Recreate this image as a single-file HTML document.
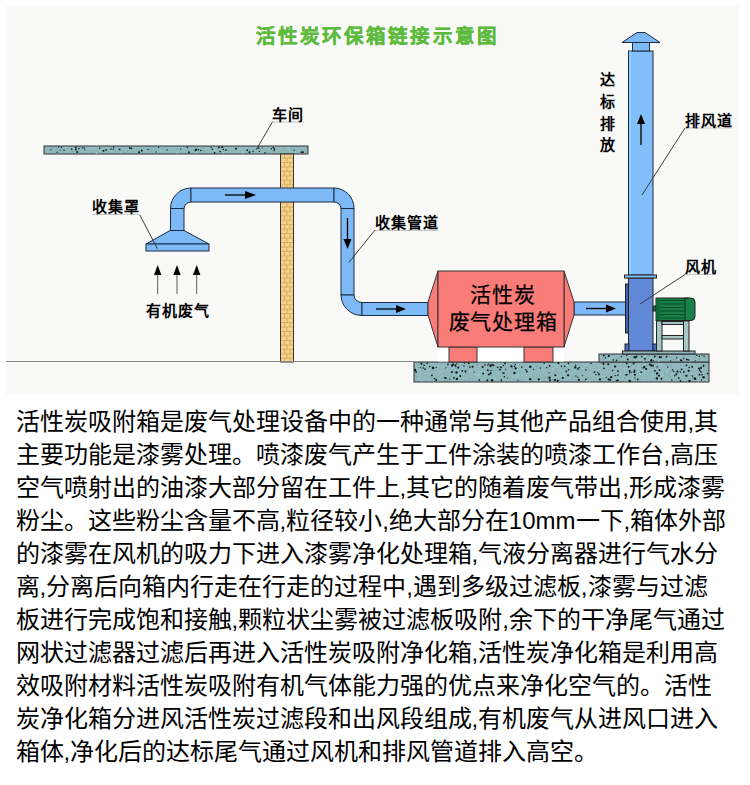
<!DOCTYPE html>
<html lang="zh-CN">
<head>
<meta charset="utf-8">
<style>
html,body{margin:0;padding:0;background:#fff;}
body{width:750px;height:785px;overflow:hidden;position:relative;font-family:"Liberation Sans",sans-serif;}
#dia{position:absolute;left:0;top:0;}
.lbl{font-family:"Liberation Sans",sans-serif;font-weight:bold;font-size:15px;letter-spacing:1px;fill:#000;}
.ttl{font-family:"Liberation Sans",sans-serif;font-weight:bold;font-size:19.5px;fill:#5cba3c;stroke:#5cba3c;stroke-width:0.3px;letter-spacing:2.13px;}
.boxt{font-family:"Liberation Serif",serif;font-size:21px;letter-spacing:0.9px;fill:#000;stroke:#000;stroke-width:0.25px;}
#txt{position:absolute;left:15.5px;top:405.4px;width:730px;font-size:24px;line-height:33px;color:#000;white-space:nowrap;}
#txt div{height:33px;}
</style>
</head>
<body>
<svg id="dia" width="750" height="400" viewBox="0 0 750 400">
<defs>

<pattern id="brick" width="14" height="8.9" patternUnits="userSpaceOnUse" x="280" y="154">
<rect width="14" height="8.9" fill="#f6d48a"/>
<path d="M0 4H14M0 8.45H14M4.5 0V4M10 0V4M7 4V8.45" stroke="#d4a460" stroke-width="0.9"/>
</pattern>
</defs>
<rect x="6" y="6" width="733" height="388.5" fill="#f9f9f7"/>
<text class="ttl" x="255.5" y="42.6">活性炭环保箱链接示意图</text>

<!-- ceiling -->
<rect x="44" y="146" width="264" height="8" fill="#8fb8bd" stroke="#333" stroke-width="1"/>
<!-- brick column -->
<rect x="280.5" y="154" width="13" height="208" fill="url(#brick)" stroke="#333" stroke-width="1"/>
<!-- floor line -->
<line x1="6" y1="361.5" x2="414" y2="361.5" stroke="#888" stroke-width="1"/>
<!-- floor slab -->
<rect x="414" y="362" width="295" height="20" fill="#8fb8bd" stroke="#333" stroke-width="1"/>
<rect x="599" y="354" width="110" height="8" fill="#8fb8bd" stroke="#333" stroke-width="1"/>
<g><rect x="284.6" y="147.2" width="1" height="1" fill="#6f969c"/><rect x="106.0" y="147.3" width="1" height="1" fill="#a8cccf"/><rect x="288.7" y="149.2" width="1" height="1" fill="#a8cccf"/><rect x="162.7" y="148.6" width="1" height="1" fill="#7aa2a8"/><rect x="72.7" y="150.6" width="1" height="1" fill="#6f969c"/><rect x="102.0" y="149.2" width="1" height="1" fill="#a8cccf"/><rect x="56.6" y="153.0" width="1" height="1" fill="#7aa2a8"/><rect x="202.0" y="150.9" width="1" height="1" fill="#a8cccf"/><rect x="258.5" y="151.9" width="1" height="1" fill="#b4d4d6"/><rect x="222.7" y="148.1" width="1" height="1" fill="#6f969c"/><rect x="65.4" y="147.2" width="1" height="1" fill="#b4d4d6"/><rect x="188.6" y="147.4" width="1" height="1" fill="#7aa2a8"/><rect x="253.5" y="151.0" width="1" height="1" fill="#a8cccf"/><rect x="212.5" y="147.5" width="1" height="1" fill="#a8cccf"/><rect x="149.2" y="148.6" width="1" height="1" fill="#6f969c"/><rect x="220.0" y="149.5" width="1" height="1" fill="#7aa2a8"/><rect x="126.8" y="150.4" width="1" height="1" fill="#6f969c"/><rect x="153.5" y="147.1" width="1" height="1" fill="#6f969c"/><rect x="213.9" y="149.3" width="1" height="1" fill="#b4d4d6"/><rect x="98.4" y="147.0" width="1" height="1" fill="#a8cccf"/><rect x="156.0" y="151.9" width="1" height="1" fill="#b4d4d6"/><rect x="196.4" y="149.2" width="1" height="1" fill="#a8cccf"/><rect x="79.1" y="147.3" width="1" height="1" fill="#a8cccf"/><rect x="212.9" y="152.5" width="1" height="1" fill="#7aa2a8"/><rect x="195.1" y="152.6" width="1" height="1" fill="#a8cccf"/><rect x="83.2" y="148.7" width="1" height="1" fill="#a8cccf"/><rect x="287.5" y="147.7" width="1" height="1" fill="#b4d4d6"/><rect x="242.4" y="151.8" width="1" height="1" fill="#a8cccf"/><rect x="124.0" y="152.0" width="1" height="1" fill="#7aa2a8"/><rect x="300.6" y="149.9" width="1" height="1" fill="#7aa2a8"/><rect x="204.2" y="150.8" width="1" height="1" fill="#7aa2a8"/><rect x="281.9" y="150.7" width="1" height="1" fill="#a8cccf"/><rect x="212.8" y="152.1" width="1" height="1" fill="#b4d4d6"/><rect x="206.1" y="148.2" width="1" height="1" fill="#b4d4d6"/><rect x="92.9" y="148.3" width="1" height="1" fill="#b4d4d6"/><rect x="290.9" y="147.9" width="1" height="1" fill="#6f969c"/><rect x="77.2" y="148.5" width="1" height="1" fill="#a8cccf"/><rect x="55.8" y="150.4" width="1" height="1" fill="#7aa2a8"/><rect x="220.0" y="148.9" width="1" height="1" fill="#b4d4d6"/><rect x="202.1" y="150.3" width="1" height="1" fill="#6f969c"/><rect x="215.0" y="148.8" width="1" height="1" fill="#a8cccf"/><rect x="156.5" y="151.0" width="1" height="1" fill="#b4d4d6"/><rect x="176.9" y="148.1" width="1" height="1" fill="#7aa2a8"/><rect x="207.1" y="149.9" width="1" height="1" fill="#a8cccf"/><rect x="162.1" y="150.7" width="1" height="1" fill="#b4d4d6"/><rect x="264.2" y="151.9" width="1" height="1" fill="#b4d4d6"/><rect x="73.1" y="147.8" width="1" height="1" fill="#b4d4d6"/><rect x="140.7" y="151.8" width="1" height="1" fill="#7aa2a8"/><rect x="55.7" y="147.8" width="1" height="1" fill="#6f969c"/><rect x="248.7" y="150.1" width="1" height="1" fill="#7aa2a8"/><rect x="242.0" y="152.4" width="1" height="1" fill="#a8cccf"/><rect x="51.8" y="147.4" width="1" height="1" fill="#7aa2a8"/><rect x="95.8" y="152.9" width="1" height="1" fill="#b4d4d6"/><rect x="120.4" y="151.9" width="1" height="1" fill="#a8cccf"/><rect x="224.8" y="151.3" width="1" height="1" fill="#a8cccf"/><rect x="62.2" y="149.1" width="1" height="1" fill="#6f969c"/><rect x="86.6" y="152.4" width="1" height="1" fill="#6f969c"/><rect x="282.1" y="149.7" width="1" height="1" fill="#6f969c"/><rect x="176.6" y="152.5" width="1" height="1" fill="#a8cccf"/><rect x="200.1" y="150.7" width="1" height="1" fill="#a8cccf"/><rect x="128.6" y="147.2" width="1" height="1" fill="#a8cccf"/><rect x="150.7" y="150.8" width="1" height="1" fill="#6f969c"/><rect x="223.1" y="152.4" width="1" height="1" fill="#a8cccf"/><rect x="252.5" y="148.6" width="1" height="1" fill="#7aa2a8"/><rect x="211.7" y="149.2" width="1" height="1" fill="#b4d4d6"/><rect x="190.5" y="150.5" width="1" height="1" fill="#7aa2a8"/><rect x="111.0" y="150.2" width="1" height="1" fill="#b4d4d6"/><rect x="238.3" y="149.2" width="1" height="1" fill="#b4d4d6"/><rect x="304.5" y="150.5" width="1" height="1" fill="#6f969c"/><rect x="131.7" y="147.5" width="1" height="1" fill="#a8cccf"/><rect x="91.3" y="151.5" width="1" height="1" fill="#7aa2a8"/><rect x="122.7" y="150.1" width="1" height="1" fill="#6f969c"/><rect x="212.5" y="152.9" width="1" height="1" fill="#6f969c"/><rect x="237.1" y="151.5" width="1" height="1" fill="#a8cccf"/><rect x="84.1" y="150.7" width="1" height="1" fill="#b4d4d6"/><rect x="154.4" y="149.2" width="1" height="1" fill="#7aa2a8"/><rect x="79.6" y="148.4" width="1" height="1" fill="#7aa2a8"/><rect x="50.8" y="147.0" width="1" height="1" fill="#6f969c"/><rect x="124.6" y="150.1" width="1" height="1" fill="#a8cccf"/><rect x="153.3" y="148.8" width="1" height="1" fill="#a8cccf"/><rect x="474.8" y="374.2" width="1" height="1" fill="#b4d4d6"/><rect x="461.5" y="363.3" width="1" height="1" fill="#a8cccf"/><rect x="622.3" y="371.1" width="1" height="1" fill="#7aa2a8"/><rect x="602.0" y="378.7" width="1" height="1" fill="#6f969c"/><rect x="532.8" y="367.8" width="1" height="1" fill="#7aa2a8"/><rect x="431.4" y="377.8" width="1" height="1" fill="#6f969c"/><rect x="589.3" y="373.4" width="1" height="1" fill="#b4d4d6"/><rect x="487.8" y="379.3" width="1" height="1" fill="#7aa2a8"/><rect x="433.0" y="363.5" width="1" height="1" fill="#a8cccf"/><rect x="484.6" y="364.1" width="1" height="1" fill="#7aa2a8"/><rect x="418.6" y="372.9" width="1" height="1" fill="#a8cccf"/><rect x="456.7" y="366.6" width="1" height="1" fill="#b4d4d6"/><rect x="653.3" y="366.1" width="1" height="1" fill="#6f969c"/><rect x="433.7" y="374.3" width="1" height="1" fill="#b4d4d6"/><rect x="624.6" y="363.1" width="1" height="1" fill="#b4d4d6"/><rect x="633.3" y="371.4" width="1" height="1" fill="#b4d4d6"/><rect x="466.4" y="380.9" width="1" height="1" fill="#6f969c"/><rect x="483.1" y="363.7" width="1" height="1" fill="#6f969c"/><rect x="676.1" y="379.7" width="1" height="1" fill="#6f969c"/><rect x="623.5" y="367.8" width="1" height="1" fill="#b4d4d6"/><rect x="615.9" y="379.5" width="1" height="1" fill="#6f969c"/><rect x="501.6" y="379.7" width="1" height="1" fill="#a8cccf"/><rect x="440.0" y="372.1" width="1" height="1" fill="#a8cccf"/><rect x="491.3" y="367.2" width="1" height="1" fill="#a8cccf"/><rect x="691.8" y="376.4" width="1" height="1" fill="#6f969c"/><rect x="471.2" y="370.0" width="1" height="1" fill="#a8cccf"/><rect x="526.2" y="378.3" width="1" height="1" fill="#b4d4d6"/><rect x="553.3" y="372.6" width="1" height="1" fill="#7aa2a8"/><rect x="666.3" y="370.9" width="1" height="1" fill="#a8cccf"/><rect x="582.1" y="368.5" width="1" height="1" fill="#a8cccf"/><rect x="529.7" y="373.5" width="1" height="1" fill="#a8cccf"/><rect x="457.4" y="363.5" width="1" height="1" fill="#7aa2a8"/><rect x="597.2" y="365.9" width="1" height="1" fill="#a8cccf"/><rect x="620.3" y="363.6" width="1" height="1" fill="#a8cccf"/><rect x="617.9" y="374.4" width="1" height="1" fill="#7aa2a8"/><rect x="630.9" y="364.2" width="1" height="1" fill="#6f969c"/><rect x="473.4" y="380.2" width="1" height="1" fill="#7aa2a8"/><rect x="672.8" y="376.6" width="1" height="1" fill="#b4d4d6"/><rect x="446.4" y="366.7" width="1" height="1" fill="#7aa2a8"/><rect x="424.9" y="380.1" width="1" height="1" fill="#7aa2a8"/><rect x="656.7" y="374.4" width="1" height="1" fill="#6f969c"/><rect x="554.8" y="365.4" width="1" height="1" fill="#a8cccf"/><rect x="501.3" y="369.1" width="1" height="1" fill="#6f969c"/><rect x="421.1" y="367.6" width="1" height="1" fill="#6f969c"/><rect x="429.2" y="376.7" width="1" height="1" fill="#6f969c"/><rect x="640.4" y="373.8" width="1" height="1" fill="#b4d4d6"/><rect x="664.5" y="374.1" width="1" height="1" fill="#7aa2a8"/><rect x="646.2" y="363.6" width="1" height="1" fill="#7aa2a8"/><rect x="516.6" y="375.7" width="1" height="1" fill="#a8cccf"/><rect x="624.3" y="377.9" width="1" height="1" fill="#6f969c"/><rect x="464.9" y="363.0" width="1" height="1" fill="#a8cccf"/><rect x="499.5" y="376.5" width="1" height="1" fill="#7aa2a8"/><rect x="416.3" y="371.8" width="1" height="1" fill="#b4d4d6"/><rect x="618.7" y="377.9" width="1" height="1" fill="#b4d4d6"/><rect x="588.6" y="380.2" width="1" height="1" fill="#6f969c"/><rect x="584.4" y="365.9" width="1" height="1" fill="#a8cccf"/><rect x="689.9" y="367.2" width="1" height="1" fill="#a8cccf"/><rect x="447.2" y="374.5" width="1" height="1" fill="#7aa2a8"/><rect x="558.7" y="380.8" width="1" height="1" fill="#7aa2a8"/><rect x="599.0" y="369.4" width="1" height="1" fill="#b4d4d6"/><rect x="687.1" y="379.1" width="1" height="1" fill="#7aa2a8"/><rect x="538.7" y="374.6" width="1" height="1" fill="#6f969c"/><rect x="475.4" y="367.7" width="1" height="1" fill="#a8cccf"/><rect x="526.1" y="378.9" width="1" height="1" fill="#a8cccf"/><rect x="691.6" y="365.3" width="1" height="1" fill="#7aa2a8"/><rect x="517.1" y="368.9" width="1" height="1" fill="#a8cccf"/><rect x="669.3" y="371.1" width="1" height="1" fill="#6f969c"/><rect x="464.7" y="370.9" width="1" height="1" fill="#6f969c"/><rect x="584.7" y="365.3" width="1" height="1" fill="#b4d4d6"/><rect x="603.3" y="375.5" width="1" height="1" fill="#a8cccf"/><rect x="493.4" y="376.6" width="1" height="1" fill="#a8cccf"/><rect x="626.9" y="380.5" width="1" height="1" fill="#6f969c"/><rect x="591.6" y="369.3" width="1" height="1" fill="#a8cccf"/><rect x="511.1" y="366.4" width="1" height="1" fill="#7aa2a8"/><rect x="463.2" y="374.8" width="1" height="1" fill="#a8cccf"/><rect x="527.6" y="380.7" width="1" height="1" fill="#6f969c"/><rect x="629.9" y="370.8" width="1" height="1" fill="#a8cccf"/><rect x="447.0" y="379.4" width="1" height="1" fill="#6f969c"/><rect x="475.5" y="370.0" width="1" height="1" fill="#7aa2a8"/><rect x="418.7" y="378.4" width="1" height="1" fill="#b4d4d6"/><rect x="618.2" y="372.0" width="1" height="1" fill="#6f969c"/><rect x="550.7" y="365.6" width="1" height="1" fill="#b4d4d6"/><rect x="416.6" y="367.4" width="1" height="1" fill="#b4d4d6"/><rect x="620.4" y="373.6" width="1" height="1" fill="#b4d4d6"/><rect x="662.9" y="375.0" width="1" height="1" fill="#a8cccf"/><rect x="614.1" y="374.5" width="1" height="1" fill="#b4d4d6"/><rect x="541.7" y="367.7" width="1" height="1" fill="#7aa2a8"/><rect x="677.2" y="367.4" width="1" height="1" fill="#b4d4d6"/><rect x="624.0" y="374.3" width="1" height="1" fill="#6f969c"/><rect x="663.9" y="371.7" width="1" height="1" fill="#7aa2a8"/><rect x="597.1" y="370.4" width="1" height="1" fill="#a8cccf"/><rect x="677.1" y="368.9" width="1" height="1" fill="#7aa2a8"/><rect x="528.9" y="371.8" width="1" height="1" fill="#7aa2a8"/><rect x="426.2" y="372.8" width="1" height="1" fill="#a8cccf"/><rect x="624.9" y="380.1" width="1" height="1" fill="#a8cccf"/><rect x="567.1" y="364.8" width="1" height="1" fill="#b4d4d6"/><rect x="573.5" y="375.9" width="1" height="1" fill="#7aa2a8"/><rect x="602.3" y="377.9" width="1" height="1" fill="#6f969c"/><rect x="535.2" y="380.1" width="1" height="1" fill="#a8cccf"/><rect x="705.2" y="366.3" width="1" height="1" fill="#7aa2a8"/><rect x="628.6" y="374.1" width="1" height="1" fill="#7aa2a8"/><rect x="489.0" y="369.9" width="1" height="1" fill="#7aa2a8"/><rect x="418.9" y="370.5" width="1" height="1" fill="#b4d4d6"/><rect x="599.2" y="375.1" width="1" height="1" fill="#6f969c"/><rect x="447.0" y="368.5" width="1" height="1" fill="#b4d4d6"/><rect x="690.4" y="372.5" width="1" height="1" fill="#a8cccf"/><rect x="706.3" y="380.3" width="1" height="1" fill="#b4d4d6"/><rect x="477.1" y="365.3" width="1" height="1" fill="#7aa2a8"/><rect x="652.2" y="374.4" width="1" height="1" fill="#b4d4d6"/><rect x="603.2" y="376.0" width="1" height="1" fill="#a8cccf"/><rect x="518.5" y="374.5" width="1" height="1" fill="#b4d4d6"/><rect x="552.2" y="368.3" width="1" height="1" fill="#a8cccf"/><rect x="643.5" y="371.4" width="1" height="1" fill="#a8cccf"/><rect x="493.4" y="369.8" width="1" height="1" fill="#6f969c"/><rect x="703.0" y="375.2" width="1" height="1" fill="#b4d4d6"/><rect x="415.8" y="376.0" width="1" height="1" fill="#6f969c"/><rect x="519.9" y="374.8" width="1" height="1" fill="#6f969c"/><rect x="555.5" y="370.7" width="1" height="1" fill="#7aa2a8"/><rect x="608.2" y="369.5" width="1" height="1" fill="#6f969c"/><rect x="665.4" y="364.0" width="1" height="1" fill="#6f969c"/><rect x="644.7" y="365.5" width="1" height="1" fill="#6f969c"/><rect x="600.5" y="363.3" width="1" height="1" fill="#7aa2a8"/><rect x="476.5" y="364.3" width="1" height="1" fill="#6f969c"/><rect x="488.3" y="364.8" width="1" height="1" fill="#a8cccf"/><rect x="665.3" y="366.3" width="1" height="1" fill="#b4d4d6"/><rect x="516.5" y="365.7" width="1" height="1" fill="#b4d4d6"/><rect x="647.0" y="366.0" width="1" height="1" fill="#7aa2a8"/><rect x="610.9" y="379.1" width="1" height="1" fill="#6f969c"/><rect x="472.8" y="375.5" width="1" height="1" fill="#7aa2a8"/><rect x="632.4" y="370.9" width="1" height="1" fill="#7aa2a8"/><rect x="577.6" y="367.8" width="1" height="1" fill="#a8cccf"/><rect x="657.3" y="371.5" width="1" height="1" fill="#7aa2a8"/><rect x="556.9" y="379.3" width="1" height="1" fill="#b4d4d6"/><rect x="487.2" y="366.0" width="1" height="1" fill="#7aa2a8"/><rect x="462.0" y="368.8" width="1" height="1" fill="#b4d4d6"/><rect x="609.9" y="378.1" width="1" height="1" fill="#6f969c"/><rect x="539.8" y="381.0" width="1" height="1" fill="#7aa2a8"/><rect x="467.9" y="369.5" width="1" height="1" fill="#7aa2a8"/><rect x="421.0" y="363.8" width="1" height="1" fill="#6f969c"/><rect x="651.9" y="364.7" width="1" height="1" fill="#b4d4d6"/><rect x="557.0" y="379.2" width="1" height="1" fill="#7aa2a8"/><rect x="477.5" y="370.5" width="1" height="1" fill="#a8cccf"/><rect x="514.2" y="378.5" width="1" height="1" fill="#6f969c"/><rect x="515.0" y="377.0" width="1" height="1" fill="#a8cccf"/><rect x="498.3" y="369.2" width="1" height="1" fill="#6f969c"/><rect x="577.3" y="377.9" width="1" height="1" fill="#6f969c"/><rect x="519.1" y="371.9" width="1" height="1" fill="#6f969c"/><rect x="562.6" y="367.9" width="1" height="1" fill="#6f969c"/><rect x="700.7" y="374.8" width="1" height="1" fill="#7aa2a8"/><rect x="512.0" y="368.7" width="1" height="1" fill="#6f969c"/><rect x="452.4" y="380.5" width="1" height="1" fill="#7aa2a8"/><rect x="644.8" y="363.7" width="1" height="1" fill="#b4d4d6"/><rect x="574.8" y="363.9" width="1" height="1" fill="#6f969c"/><rect x="446.8" y="363.8" width="1" height="1" fill="#b4d4d6"/><rect x="593.3" y="374.8" width="1" height="1" fill="#b4d4d6"/><rect x="595.7" y="374.3" width="1" height="1" fill="#7aa2a8"/><rect x="477.3" y="375.0" width="1" height="1" fill="#b4d4d6"/><rect x="598.2" y="366.1" width="1" height="1" fill="#a8cccf"/><rect x="669.7" y="370.6" width="1" height="1" fill="#7aa2a8"/><rect x="682.8" y="374.8" width="1" height="1" fill="#6f969c"/><rect x="670.5" y="365.5" width="1" height="1" fill="#6f969c"/><rect x="579.7" y="367.6" width="1" height="1" fill="#6f969c"/><rect x="469.1" y="363.6" width="1" height="1" fill="#7aa2a8"/><rect x="541.2" y="374.6" width="1" height="1" fill="#7aa2a8"/><rect x="560.8" y="372.4" width="1" height="1" fill="#7aa2a8"/><rect x="641.7" y="370.6" width="1" height="1" fill="#b4d4d6"/><rect x="545.8" y="363.3" width="1" height="1" fill="#b4d4d6"/><rect x="589.0" y="380.9" width="1" height="1" fill="#a8cccf"/><rect x="554.3" y="370.4" width="1" height="1" fill="#7aa2a8"/><rect x="439.3" y="371.5" width="1" height="1" fill="#a8cccf"/><rect x="598.7" y="370.7" width="1" height="1" fill="#7aa2a8"/><rect x="615.3" y="365.2" width="1" height="1" fill="#7aa2a8"/><rect x="478.9" y="365.2" width="1" height="1" fill="#b4d4d6"/><rect x="420.2" y="375.9" width="1" height="1" fill="#a8cccf"/><rect x="547.1" y="376.4" width="1" height="1" fill="#7aa2a8"/><rect x="522.2" y="376.5" width="1" height="1" fill="#a8cccf"/><rect x="628.8" y="364.5" width="1" height="1" fill="#b4d4d6"/><rect x="549.9" y="379.8" width="1" height="1" fill="#6f969c"/><rect x="682.7" y="363.9" width="1" height="1" fill="#7aa2a8"/><rect x="418.3" y="363.3" width="1" height="1" fill="#7aa2a8"/><rect x="529.0" y="368.6" width="1" height="1" fill="#a8cccf"/><rect x="695.6" y="378.0" width="1" height="1" fill="#7aa2a8"/><rect x="507.7" y="380.1" width="1" height="1" fill="#b4d4d6"/><rect x="552.7" y="366.0" width="1" height="1" fill="#7aa2a8"/><rect x="521.4" y="374.6" width="1" height="1" fill="#b4d4d6"/><rect x="554.7" y="377.0" width="1" height="1" fill="#b4d4d6"/><rect x="691.9" y="377.1" width="1" height="1" fill="#6f969c"/><rect x="500.7" y="364.1" width="1" height="1" fill="#6f969c"/><rect x="669.8" y="376.1" width="1" height="1" fill="#7aa2a8"/><rect x="658.6" y="373.8" width="1" height="1" fill="#6f969c"/><rect x="586.3" y="380.6" width="1" height="1" fill="#a8cccf"/><rect x="525.4" y="375.3" width="1" height="1" fill="#a8cccf"/><rect x="651.6" y="368.1" width="1" height="1" fill="#7aa2a8"/><rect x="509.2" y="367.8" width="1" height="1" fill="#a8cccf"/><rect x="586.9" y="377.7" width="1" height="1" fill="#7aa2a8"/><rect x="499.5" y="365.5" width="1" height="1" fill="#a8cccf"/><rect x="495.2" y="378.3" width="1" height="1" fill="#b4d4d6"/><rect x="516.6" y="364.5" width="1" height="1" fill="#b4d4d6"/><rect x="648.6" y="366.6" width="1" height="1" fill="#a8cccf"/><rect x="505.7" y="364.0" width="1" height="1" fill="#b4d4d6"/><rect x="551.3" y="366.7" width="1" height="1" fill="#6f969c"/><rect x="586.8" y="363.2" width="1" height="1" fill="#b4d4d6"/><rect x="549.7" y="364.6" width="1" height="1" fill="#6f969c"/><rect x="641.2" y="367.2" width="1" height="1" fill="#6f969c"/><rect x="674.3" y="372.4" width="1" height="1" fill="#b4d4d6"/><rect x="563.3" y="366.6" width="1" height="1" fill="#a8cccf"/><rect x="471.3" y="366.3" width="1" height="1" fill="#6f969c"/><rect x="521.3" y="373.2" width="1" height="1" fill="#b4d4d6"/><rect x="643.4" y="378.4" width="1" height="1" fill="#a8cccf"/><rect x="428.1" y="380.9" width="1" height="1" fill="#6f969c"/><rect x="668.8" y="369.7" width="1" height="1" fill="#b4d4d6"/><rect x="645.7" y="365.8" width="1" height="1" fill="#7aa2a8"/><rect x="516.1" y="372.4" width="1" height="1" fill="#7aa2a8"/><rect x="442.6" y="366.7" width="1" height="1" fill="#b4d4d6"/><rect x="586.9" y="366.8" width="1" height="1" fill="#6f969c"/><rect x="539.8" y="380.0" width="1" height="1" fill="#a8cccf"/><rect x="489.4" y="363.7" width="1" height="1" fill="#a8cccf"/><rect x="706.4" y="369.8" width="1" height="1" fill="#7aa2a8"/><rect x="429.9" y="373.0" width="1" height="1" fill="#b4d4d6"/><rect x="557.6" y="378.2" width="1" height="1" fill="#7aa2a8"/><rect x="667.9" y="374.5" width="1" height="1" fill="#7aa2a8"/><rect x="622.0" y="364.6" width="1" height="1" fill="#6f969c"/><rect x="580.4" y="374.5" width="1" height="1" fill="#b4d4d6"/><rect x="468.5" y="378.3" width="1" height="1" fill="#6f969c"/><rect x="698.0" y="380.9" width="1" height="1" fill="#a8cccf"/><rect x="465.4" y="380.0" width="1" height="1" fill="#6f969c"/><rect x="432.4" y="373.0" width="1" height="1" fill="#7aa2a8"/><rect x="660.3" y="363.8" width="1" height="1" fill="#b4d4d6"/><rect x="431.3" y="365.6" width="1" height="1" fill="#7aa2a8"/><rect x="690.2" y="375.2" width="1" height="1" fill="#6f969c"/><rect x="587.8" y="370.9" width="1" height="1" fill="#7aa2a8"/><rect x="552.9" y="369.7" width="1" height="1" fill="#b4d4d6"/><rect x="451.4" y="371.7" width="1" height="1" fill="#a8cccf"/><rect x="544.3" y="377.5" width="1" height="1" fill="#7aa2a8"/><rect x="552.1" y="379.4" width="1" height="1" fill="#7aa2a8"/><rect x="461.0" y="378.0" width="1" height="1" fill="#7aa2a8"/><rect x="688.7" y="378.6" width="1" height="1" fill="#a8cccf"/><rect x="643.0" y="380.2" width="1" height="1" fill="#b4d4d6"/><rect x="661.8" y="374.3" width="1" height="1" fill="#b4d4d6"/><rect x="699.9" y="368.8" width="1" height="1" fill="#a8cccf"/><rect x="554.9" y="374.3" width="1" height="1" fill="#a8cccf"/><rect x="512.3" y="376.2" width="1" height="1" fill="#a8cccf"/><rect x="624.1" y="373.0" width="1" height="1" fill="#a8cccf"/><rect x="543.6" y="365.7" width="1" height="1" fill="#b4d4d6"/><rect x="535.7" y="365.8" width="1" height="1" fill="#6f969c"/><rect x="582.3" y="368.3" width="1" height="1" fill="#a8cccf"/><rect x="491.4" y="365.0" width="1" height="1" fill="#b4d4d6"/><rect x="679.6" y="365.1" width="1" height="1" fill="#7aa2a8"/><rect x="599.9" y="377.2" width="1" height="1" fill="#a8cccf"/><rect x="579.1" y="378.0" width="1" height="1" fill="#7aa2a8"/><rect x="490.5" y="366.6" width="1" height="1" fill="#6f969c"/><rect x="541.6" y="367.7" width="1" height="1" fill="#a8cccf"/><rect x="686.0" y="364.8" width="1" height="1" fill="#6f969c"/><rect x="536.8" y="365.9" width="1" height="1" fill="#6f969c"/><rect x="457.3" y="374.5" width="1" height="1" fill="#b4d4d6"/><rect x="651.5" y="369.1" width="1" height="1" fill="#a8cccf"/><rect x="544.8" y="377.2" width="1" height="1" fill="#6f969c"/><rect x="469.4" y="370.8" width="1" height="1" fill="#b4d4d6"/><rect x="479.0" y="373.3" width="1" height="1" fill="#a8cccf"/><rect x="662.1" y="372.4" width="1" height="1" fill="#a8cccf"/><rect x="623.5" y="366.5" width="1" height="1" fill="#7aa2a8"/><rect x="657.9" y="379.0" width="1" height="1" fill="#b4d4d6"/><rect x="638.1" y="366.2" width="1" height="1" fill="#a8cccf"/><rect x="594.4" y="375.7" width="1" height="1" fill="#a8cccf"/><rect x="585.8" y="366.6" width="1" height="1" fill="#7aa2a8"/><rect x="617.8" y="372.4" width="1" height="1" fill="#7aa2a8"/><rect x="566.9" y="369.3" width="1" height="1" fill="#6f969c"/><rect x="661.7" y="378.6" width="1" height="1" fill="#b4d4d6"/><rect x="441.5" y="370.4" width="1" height="1" fill="#b4d4d6"/><rect x="454.1" y="375.0" width="1" height="1" fill="#a8cccf"/><rect x="469.5" y="378.0" width="1" height="1" fill="#6f969c"/><rect x="425.7" y="375.6" width="1" height="1" fill="#7aa2a8"/><rect x="519.4" y="379.8" width="1" height="1" fill="#7aa2a8"/><rect x="450.4" y="375.9" width="1" height="1" fill="#6f969c"/><rect x="643.3" y="378.6" width="1" height="1" fill="#7aa2a8"/><rect x="500.4" y="364.9" width="1" height="1" fill="#b4d4d6"/><rect x="545.8" y="363.5" width="1" height="1" fill="#a8cccf"/><rect x="421.1" y="380.4" width="1" height="1" fill="#a8cccf"/><rect x="596.4" y="366.0" width="1" height="1" fill="#6f969c"/><rect x="488.4" y="377.7" width="1" height="1" fill="#7aa2a8"/><rect x="420.7" y="379.7" width="1" height="1" fill="#a8cccf"/><rect x="491.6" y="378.1" width="1" height="1" fill="#b4d4d6"/><rect x="568.2" y="375.6" width="1" height="1" fill="#7aa2a8"/><rect x="517.8" y="364.7" width="1" height="1" fill="#a8cccf"/><rect x="428.2" y="365.2" width="1" height="1" fill="#b4d4d6"/><rect x="586.7" y="376.7" width="1" height="1" fill="#7aa2a8"/><rect x="450.8" y="370.3" width="1" height="1" fill="#a8cccf"/><rect x="573.7" y="367.1" width="1" height="1" fill="#a8cccf"/><rect x="458.1" y="373.3" width="1" height="1" fill="#b4d4d6"/><rect x="463.1" y="377.9" width="1" height="1" fill="#b4d4d6"/><rect x="618.3" y="373.7" width="1" height="1" fill="#7aa2a8"/><rect x="530.9" y="379.9" width="1" height="1" fill="#6f969c"/><rect x="514.2" y="367.3" width="1" height="1" fill="#6f969c"/><rect x="624.6" y="378.2" width="1" height="1" fill="#6f969c"/><rect x="653.8" y="378.3" width="1" height="1" fill="#7aa2a8"/><rect x="510.2" y="365.6" width="1" height="1" fill="#6f969c"/><rect x="488.0" y="370.6" width="1" height="1" fill="#7aa2a8"/><rect x="521.8" y="372.6" width="1" height="1" fill="#7aa2a8"/><rect x="510.0" y="366.6" width="1" height="1" fill="#7aa2a8"/><rect x="481.1" y="370.6" width="1" height="1" fill="#b4d4d6"/><rect x="683.9" y="360.6" width="1" height="1" fill="#7aa2a8"/><rect x="687.4" y="360.3" width="1" height="1" fill="#7aa2a8"/><rect x="603.7" y="358.8" width="1" height="1" fill="#6f969c"/><rect x="699.1" y="358.7" width="1" height="1" fill="#7aa2a8"/><rect x="667.1" y="356.5" width="1" height="1" fill="#7aa2a8"/><rect x="646.8" y="360.7" width="1" height="1" fill="#6f969c"/><rect x="612.2" y="357.1" width="1" height="1" fill="#a8cccf"/><rect x="613.0" y="358.6" width="1" height="1" fill="#6f969c"/><rect x="609.1" y="358.5" width="1" height="1" fill="#a8cccf"/><rect x="647.5" y="358.1" width="1" height="1" fill="#6f969c"/><rect x="698.9" y="358.5" width="1" height="1" fill="#6f969c"/><rect x="626.3" y="355.5" width="1" height="1" fill="#6f969c"/><rect x="690.7" y="358.7" width="1" height="1" fill="#a8cccf"/><rect x="670.2" y="356.2" width="1" height="1" fill="#6f969c"/><rect x="649.8" y="358.3" width="1" height="1" fill="#b4d4d6"/><rect x="650.6" y="356.9" width="1" height="1" fill="#a8cccf"/><rect x="636.0" y="356.1" width="1" height="1" fill="#b4d4d6"/><rect x="704.7" y="357.4" width="1" height="1" fill="#6f969c"/><rect x="617.5" y="360.7" width="1" height="1" fill="#6f969c"/><rect x="660.1" y="357.9" width="1" height="1" fill="#6f969c"/><rect x="694.9" y="356.3" width="1" height="1" fill="#7aa2a8"/><rect x="683.4" y="356.0" width="1" height="1" fill="#7aa2a8"/><rect x="665.4" y="357.1" width="1" height="1" fill="#7aa2a8"/><rect x="655.8" y="360.0" width="1" height="1" fill="#6f969c"/><rect x="679.4" y="355.7" width="1" height="1" fill="#a8cccf"/><rect x="706.8" y="359.1" width="1" height="1" fill="#a8cccf"/><rect x="645.0" y="359.0" width="1" height="1" fill="#a8cccf"/><rect x="672.9" y="358.7" width="1" height="1" fill="#6f969c"/><rect x="688.7" y="358.1" width="1" height="1" fill="#b4d4d6"/><rect x="629.0" y="358.8" width="1" height="1" fill="#a8cccf"/><rect x="644.6" y="355.6" width="1" height="1" fill="#b4d4d6"/><rect x="682.7" y="358.5" width="1" height="1" fill="#b4d4d6"/><rect x="642.9" y="361.0" width="1" height="1" fill="#a8cccf"/><rect x="645.1" y="359.7" width="1" height="1" fill="#7aa2a8"/><rect x="641.0" y="357.7" width="1" height="1" fill="#b4d4d6"/><rect x="631.1" y="357.1" width="1" height="1" fill="#6f969c"/><rect x="642.2" y="358.3" width="1" height="1" fill="#b4d4d6"/><rect x="670.0" y="355.0" width="1" height="1" fill="#b4d4d6"/><rect x="641.1" y="356.8" width="1" height="1" fill="#6f969c"/><rect x="686.7" y="357.6" width="1" height="1" fill="#b4d4d6"/><rect x="662.8" y="355.5" width="1" height="1" fill="#6f969c"/><rect x="635.0" y="360.1" width="1" height="1" fill="#a8cccf"/><rect x="703.5" y="356.2" width="1" height="1" fill="#b4d4d6"/><rect x="696.3" y="360.7" width="1" height="1" fill="#7aa2a8"/><rect x="605.1" y="358.4" width="1" height="1" fill="#b4d4d6"/><rect x="632.4" y="358.2" width="1" height="1" fill="#6f969c"/><rect x="658.2" y="361.0" width="1" height="1" fill="#b4d4d6"/><rect x="642.1" y="357.1" width="1" height="1" fill="#6f969c"/><rect x="648.9" y="355.1" width="1" height="1" fill="#7aa2a8"/><rect x="656.7" y="355.6" width="1" height="1" fill="#6f969c"/><rect x="654.1" y="358.9" width="1" height="1" fill="#a8cccf"/><rect x="695.0" y="360.8" width="1" height="1" fill="#b4d4d6"/><rect x="643.4" y="359.6" width="1" height="1" fill="#6f969c"/><rect x="674.7" y="359.5" width="1" height="1" fill="#7aa2a8"/><rect x="618.4" y="356.9" width="1" height="1" fill="#7aa2a8"/><rect x="689.2" y="358.1" width="1" height="1" fill="#7aa2a8"/><rect x="670.8" y="356.8" width="1" height="1" fill="#6f969c"/><rect x="688.6" y="360.9" width="1" height="1" fill="#b4d4d6"/><rect x="668.2" y="358.1" width="1" height="1" fill="#a8cccf"/><rect x="654.5" y="356.1" width="1" height="1" fill="#a8cccf"/></g><g fill="#111"><circle cx="129.8" cy="147.9" r="0.86"/><circle cx="64.0" cy="150.2" r="0.75"/><circle cx="60.2" cy="150.0" r="0.61"/><circle cx="158.6" cy="147.4" r="0.64"/><circle cx="156.2" cy="152.0" r="0.65"/><circle cx="103.5" cy="150.8" r="0.98"/><circle cx="196.2" cy="149.4" r="0.99"/><circle cx="57.2" cy="152.2" r="0.72"/><circle cx="82.8" cy="147.7" r="0.72"/><circle cx="258.8" cy="148.1" r="0.83"/><circle cx="212.4" cy="149.2" r="0.82"/><circle cx="61.5" cy="147.4" r="0.68"/><circle cx="223.3" cy="149.6" r="0.73"/><circle cx="198.4" cy="149.7" r="0.72"/><circle cx="253.1" cy="151.2" r="0.70"/><circle cx="195.5" cy="150.2" r="0.95"/><circle cx="236.1" cy="148.7" r="0.99"/><circle cx="75.9" cy="149.5" r="0.90"/><circle cx="84.8" cy="149.9" r="0.62"/><circle cx="220.1" cy="151.6" r="0.83"/><circle cx="274.4" cy="148.9" r="0.88"/><circle cx="200.7" cy="150.5" r="0.78"/><circle cx="265.1" cy="152.7" r="0.79"/><circle cx="219.0" cy="147.4" r="0.88"/><circle cx="214.5" cy="153.0" r="0.93"/><circle cx="119.6" cy="149.3" r="0.87"/><circle cx="50.9" cy="149.8" r="0.67"/><circle cx="75.7" cy="147.4" r="0.91"/><circle cx="78.9" cy="148.5" r="0.76"/><circle cx="273.3" cy="147.5" r="0.78"/><circle cx="189.0" cy="152.3" r="0.93"/><circle cx="271.4" cy="148.7" r="0.77"/><circle cx="139.0" cy="152.3" r="0.98"/><circle cx="84.5" cy="148.1" r="0.69"/><circle cx="106.1" cy="149.9" r="0.84"/><circle cx="113.8" cy="147.0" r="0.77"/><circle cx="141.7" cy="150.4" r="0.98"/><circle cx="225.9" cy="150.1" r="0.85"/><circle cx="222.2" cy="147.3" r="0.96"/><circle cx="249.4" cy="152.2" r="0.92"/><circle cx="147.8" cy="149.4" r="0.64"/><circle cx="211.2" cy="147.4" r="0.63"/><circle cx="99.7" cy="148.0" r="0.74"/><circle cx="58.8" cy="147.0" r="0.66"/><circle cx="71.6" cy="149.2" r="0.61"/><circle cx="274.1" cy="150.7" r="0.66"/><circle cx="111.1" cy="149.1" r="0.75"/><circle cx="77.2" cy="152.1" r="1.00"/><circle cx="167.1" cy="149.9" r="0.63"/><circle cx="71.8" cy="149.1" r="0.71"/><circle cx="262.2" cy="148.0" r="0.61"/><circle cx="294.2" cy="150.2" r="0.66"/><circle cx="187.3" cy="147.2" r="0.81"/><circle cx="301.4" cy="152.2" r="0.88"/><circle cx="113.4" cy="149.2" r="0.67"/><circle cx="247.2" cy="150.2" r="0.91"/><circle cx="131.4" cy="148.3" r="0.92"/><circle cx="303.1" cy="152.1" r="0.92"/><circle cx="259.4" cy="151.4" r="0.69"/><circle cx="180.6" cy="149.1" r="0.61"/><circle cx="423.2" cy="368.0" r="0.76"/><circle cx="617.9" cy="380.2" r="0.87"/><circle cx="689.5" cy="380.8" r="1.17"/><circle cx="521.8" cy="367.0" r="0.74"/><circle cx="472.6" cy="366.7" r="0.97"/><circle cx="678.8" cy="378.1" r="0.89"/><circle cx="606.3" cy="377.4" r="0.65"/><circle cx="608.6" cy="379.4" r="1.07"/><circle cx="634.8" cy="371.6" r="0.71"/><circle cx="646.2" cy="369.0" r="1.08"/><circle cx="699.7" cy="370.1" r="0.84"/><circle cx="692.4" cy="376.0" r="0.70"/><circle cx="452.2" cy="365.7" r="1.14"/><circle cx="651.3" cy="365.6" r="1.10"/><circle cx="702.2" cy="374.8" r="0.81"/><circle cx="575.8" cy="365.4" r="0.61"/><circle cx="699.5" cy="374.7" r="0.92"/><circle cx="688.6" cy="370.8" r="1.12"/><circle cx="657.1" cy="366.8" r="0.75"/><circle cx="500.8" cy="367.3" r="0.95"/><circle cx="491.0" cy="370.5" r="0.68"/><circle cx="681.6" cy="369.4" r="0.87"/><circle cx="585.9" cy="379.3" r="0.85"/><circle cx="683.9" cy="372.0" r="0.92"/><circle cx="568.4" cy="363.3" r="0.86"/><circle cx="468.7" cy="363.1" r="1.08"/><circle cx="465.5" cy="371.5" r="1.04"/><circle cx="578.0" cy="368.9" r="0.91"/><circle cx="577.7" cy="377.1" r="0.66"/><circle cx="579.2" cy="367.5" r="0.77"/><circle cx="641.3" cy="372.1" r="0.94"/><circle cx="637.7" cy="379.4" r="0.87"/><circle cx="594.5" cy="372.1" r="0.91"/><circle cx="618.0" cy="371.1" r="0.92"/><circle cx="555.1" cy="379.9" r="1.02"/><circle cx="671.8" cy="380.0" r="0.76"/><circle cx="578.9" cy="380.0" r="1.10"/><circle cx="455.2" cy="365.2" r="0.87"/><circle cx="436.3" cy="367.3" r="0.64"/><circle cx="611.2" cy="377.1" r="1.14"/><circle cx="460.3" cy="375.9" r="1.00"/><circle cx="456.9" cy="378.9" r="1.18"/><circle cx="479.3" cy="380.1" r="0.84"/><circle cx="557.8" cy="380.8" r="1.10"/><circle cx="462.3" cy="370.8" r="0.91"/><circle cx="514.4" cy="366.5" r="0.79"/><circle cx="626.6" cy="363.4" r="0.93"/><circle cx="544.1" cy="363.3" r="0.80"/><circle cx="597.8" cy="372.2" r="0.64"/><circle cx="703.6" cy="377.2" r="1.18"/><circle cx="445.7" cy="367.8" r="0.62"/><circle cx="643.2" cy="367.9" r="0.68"/><circle cx="538.7" cy="379.4" r="1.09"/><circle cx="490.8" cy="365.7" r="1.15"/><circle cx="582.2" cy="375.6" r="0.65"/><circle cx="431.9" cy="375.4" r="0.86"/><circle cx="436.2" cy="379.9" r="0.98"/><circle cx="649.9" cy="364.5" r="1.11"/><circle cx="434.5" cy="378.5" r="0.87"/><circle cx="514.4" cy="373.0" r="1.16"/><circle cx="493.5" cy="365.3" r="0.92"/><circle cx="484.9" cy="365.0" r="0.70"/><circle cx="429.8" cy="366.6" r="0.79"/><circle cx="504.4" cy="376.7" r="0.77"/><circle cx="561.5" cy="366.2" r="0.81"/><circle cx="420.3" cy="367.5" r="0.61"/><circle cx="629.8" cy="372.9" r="0.71"/><circle cx="554.1" cy="379.8" r="0.66"/><circle cx="654.9" cy="370.8" r="0.90"/><circle cx="659.5" cy="370.1" r="0.90"/><circle cx="616.5" cy="380.7" r="0.81"/><circle cx="658.9" cy="375.7" r="0.98"/><circle cx="533.6" cy="369.3" r="0.63"/><circle cx="453.0" cy="364.3" r="1.04"/><circle cx="489.9" cy="365.9" r="0.65"/><circle cx="661.5" cy="378.7" r="1.00"/><circle cx="497.6" cy="367.4" r="0.78"/><circle cx="549.6" cy="365.8" r="0.87"/><circle cx="492.1" cy="380.3" r="1.18"/><circle cx="575.3" cy="367.4" r="1.18"/><circle cx="505.7" cy="369.4" r="0.60"/><circle cx="526.8" cy="371.5" r="0.90"/><circle cx="473.9" cy="372.1" r="0.60"/><circle cx="492.4" cy="364.6" r="0.84"/><circle cx="427.2" cy="363.4" r="0.78"/><circle cx="483.2" cy="373.5" r="0.92"/><circle cx="634.9" cy="374.8" r="1.03"/><circle cx="672.6" cy="370.0" r="0.80"/><circle cx="703.5" cy="365.7" r="1.03"/><circle cx="603.5" cy="363.8" r="1.10"/><circle cx="676.3" cy="374.3" r="1.04"/><circle cx="653.0" cy="365.5" r="0.91"/><circle cx="562.8" cy="378.0" r="1.08"/><circle cx="657.1" cy="373.5" r="1.14"/><circle cx="615.1" cy="375.5" r="0.74"/><circle cx="424.1" cy="365.4" r="0.82"/><circle cx="445.7" cy="378.0" r="0.94"/><circle cx="598.9" cy="374.3" r="1.01"/><circle cx="558.4" cy="363.1" r="1.08"/><circle cx="634.2" cy="372.1" r="0.92"/><circle cx="608.2" cy="364.2" r="1.04"/><circle cx="488.9" cy="364.3" r="0.76"/><circle cx="628.7" cy="366.7" r="1.04"/><circle cx="700.9" cy="371.9" r="0.83"/><circle cx="555.3" cy="375.3" r="1.06"/><circle cx="595.8" cy="374.6" r="0.65"/><circle cx="458.2" cy="367.6" r="1.05"/><circle cx="504.2" cy="373.2" r="0.61"/><circle cx="432.8" cy="367.8" r="1.00"/><circle cx="617.8" cy="375.2" r="0.77"/><circle cx="566.3" cy="371.4" r="0.88"/><circle cx="449.7" cy="379.1" r="0.72"/><circle cx="701.6" cy="379.9" r="0.61"/><circle cx="549.5" cy="377.8" r="1.18"/><circle cx="546.7" cy="367.8" r="0.73"/><circle cx="692.1" cy="366.8" r="0.95"/><circle cx="456.5" cy="372.4" r="1.17"/><circle cx="453.9" cy="377.8" r="0.91"/><circle cx="674.9" cy="375.7" r="0.74"/><circle cx="678.0" cy="371.8" r="0.61"/><circle cx="416.1" cy="371.9" r="0.87"/><circle cx="503.5" cy="365.5" r="0.81"/><circle cx="507.6" cy="378.1" r="0.60"/><circle cx="635.0" cy="378.1" r="0.67"/><circle cx="686.4" cy="375.8" r="1.14"/><circle cx="499.9" cy="369.7" r="0.84"/><circle cx="707.6" cy="373.6" r="0.82"/><circle cx="540.4" cy="368.0" r="0.63"/><circle cx="444.8" cy="378.0" r="0.77"/><circle cx="689.1" cy="367.5" r="0.76"/><circle cx="564.7" cy="366.4" r="0.82"/><circle cx="695.2" cy="378.9" r="1.09"/><circle cx="599.9" cy="379.4" r="1.16"/><circle cx="575.9" cy="376.0" r="0.63"/><circle cx="629.6" cy="371.1" r="1.05"/><circle cx="603.8" cy="368.2" r="0.63"/><circle cx="686.5" cy="365.3" r="0.88"/><circle cx="515.7" cy="368.4" r="1.04"/><circle cx="701.1" cy="367.7" r="0.99"/><circle cx="503.1" cy="373.0" r="0.84"/><circle cx="464.0" cy="365.9" r="0.72"/><circle cx="680.4" cy="371.9" r="0.73"/><circle cx="680.5" cy="380.9" r="0.87"/><circle cx="455.9" cy="366.5" r="0.65"/><circle cx="515.2" cy="364.6" r="0.74"/><circle cx="490.7" cy="373.3" r="1.13"/><circle cx="634.6" cy="370.4" r="0.85"/><circle cx="568.6" cy="369.8" r="0.80"/><circle cx="433.2" cy="368.0" r="1.18"/><circle cx="451.9" cy="372.1" r="0.98"/><circle cx="667.8" cy="366.9" r="0.76"/><circle cx="487.8" cy="370.2" r="0.87"/><circle cx="694.5" cy="378.3" r="1.12"/><circle cx="421.4" cy="363.6" r="1.03"/><circle cx="677.4" cy="371.5" r="0.95"/><circle cx="415.1" cy="370.0" r="1.16"/><circle cx="656.9" cy="378.4" r="1.18"/><circle cx="487.8" cy="365.0" r="0.69"/><circle cx="568.1" cy="375.3" r="1.16"/><circle cx="626.5" cy="374.7" r="1.06"/><circle cx="549.0" cy="372.9" r="0.62"/><circle cx="644.2" cy="367.2" r="1.15"/><circle cx="604.1" cy="368.5" r="0.68"/><circle cx="488.8" cy="374.5" r="1.02"/><circle cx="447.9" cy="364.3" r="0.91"/><circle cx="585.8" cy="370.0" r="0.73"/><circle cx="591.1" cy="363.2" r="0.78"/><circle cx="550.0" cy="380.3" r="0.99"/><circle cx="673.9" cy="371.6" r="0.74"/><circle cx="487.4" cy="380.3" r="1.02"/><circle cx="505.1" cy="363.4" r="0.90"/><circle cx="612.6" cy="370.6" r="0.75"/><circle cx="610.5" cy="379.7" r="0.74"/><circle cx="425.0" cy="369.1" r="0.85"/><circle cx="615.0" cy="366.6" r="1.08"/><circle cx="631.6" cy="372.1" r="0.72"/><circle cx="699.2" cy="368.6" r="1.09"/><circle cx="482.6" cy="367.0" r="1.06"/><circle cx="501.4" cy="380.1" r="0.90"/><circle cx="469.9" cy="367.0" r="0.85"/><circle cx="609.9" cy="380.1" r="0.69"/><circle cx="530.3" cy="366.8" r="1.18"/><circle cx="456.6" cy="363.9" r="0.64"/><circle cx="530.2" cy="379.2" r="1.13"/><circle cx="629.7" cy="381.0" r="1.16"/><circle cx="511.5" cy="366.3" r="1.16"/><circle cx="633.7" cy="363.6" r="1.00"/><circle cx="525.9" cy="369.7" r="0.80"/><circle cx="464.6" cy="363.1" r="0.77"/><circle cx="518.0" cy="380.2" r="0.67"/><circle cx="704.1" cy="356.2" r="0.74"/><circle cx="688.7" cy="359.9" r="0.77"/><circle cx="605.3" cy="357.8" r="0.75"/><circle cx="699.3" cy="356.2" r="0.75"/><circle cx="696.9" cy="355.2" r="0.76"/><circle cx="687.7" cy="359.6" r="0.62"/><circle cx="603.8" cy="355.4" r="0.97"/><circle cx="627.8" cy="359.5" r="0.96"/><circle cx="636.6" cy="356.6" r="0.98"/><circle cx="666.6" cy="356.6" r="0.89"/><circle cx="634.2" cy="356.7" r="0.60"/><circle cx="681.6" cy="360.5" r="0.85"/><circle cx="701.9" cy="355.1" r="0.69"/><circle cx="651.3" cy="360.7" r="0.98"/><circle cx="641.7" cy="356.5" r="0.77"/><circle cx="653.3" cy="360.6" r="0.67"/><circle cx="686.7" cy="359.4" r="0.93"/><circle cx="683.5" cy="358.6" r="0.73"/><circle cx="634.5" cy="357.2" r="0.91"/><circle cx="608.5" cy="356.2" r="0.90"/><circle cx="626.7" cy="355.4" r="0.61"/><circle cx="659.7" cy="357.0" r="0.99"/><circle cx="695.4" cy="360.9" r="0.71"/><circle cx="609.1" cy="355.6" r="0.80"/><circle cx="676.7" cy="357.7" r="0.69"/><circle cx="645.0" cy="358.7" r="0.87"/><circle cx="680.8" cy="360.1" r="0.87"/><circle cx="613.1" cy="360.0" r="0.72"/><circle cx="661.2" cy="357.2" r="0.90"/><circle cx="621.5" cy="356.5" r="0.70"/><circle cx="616.6" cy="360.3" r="0.83"/><circle cx="635.2" cy="357.4" r="1.00"/><circle cx="654.8" cy="356.4" r="0.92"/><circle cx="670.6" cy="360.9" r="0.64"/><circle cx="651.3" cy="359.9" r="0.94"/></g>

<!-- pipes -->
<g fill="#7cb9f6" stroke="#1e2c44" stroke-width="1">
<!-- hood -->
<path d="M146 244 L170 230.5 L184 230.5 L209 244 Z"/>
<rect x="146" y="244" width="63" height="7"/>
<rect x="170.5" y="208.5" width="13.5" height="22"/>
<path d="M170.5 208.5 A20.5 20.5 0 0 1 191 188 L191 202 A7 7 0 0 0 184 208.5 Z"/>
<rect x="191" y="188" width="143" height="14"/>
<path d="M334 188 A20 20 0 0 1 354 208.5 L341 208.5 A7 6.5 0 0 0 334 202 Z"/>
<rect x="341" y="208.5" width="13" height="86.5"/>
<path d="M341 295 L354 295 A8 7.5 0 0 0 362 302.5 L362 315.5 A21 20.5 0 0 1 341 295 Z"/>
<rect x="362" y="302.5" width="66" height="13"/>
<rect x="574" y="302" width="54.5" height="13"/>
<!-- stack -->
<rect x="628.5" y="51" width="24.5" height="224" fill="#82bef9"/>
<rect x="632.5" y="42.5" width="17" height="8.5"/>
<path d="M622 42.5 L637 32.5 L645 32.5 L660 42.5 Z"/>
</g>
<rect x="629.5" y="51.5" width="1.5" height="223" fill="#96d2ff"/>
<!-- fan -->
<g stroke="#222" stroke-width="1">
<rect x="625.5" y="284" width="3" height="49" fill="#3f62b0"/>
<rect x="628.5" y="278" width="24.5" height="73" fill="#6288d8"/>
<rect x="624.5" y="275" width="32" height="3" fill="#80bcf8"/>
<rect x="625" y="344" width="4" height="7" fill="#4a6cc0"/>
<rect x="653" y="344" width="4" height="7" fill="#4a6cc0"/>
<rect x="622.5" y="351" width="72.5" height="3" fill="#93b8bf"/>
<!-- stand -->
<rect x="656.5" y="321" width="5.5" height="30" fill="#a8c8c8"/>
<rect x="683.5" y="321" width="5.5" height="30" fill="#a8c8c8"/>
<rect x="662" y="321.5" width="21.5" height="3" fill="#a8c8c8"/>
<rect x="662" y="335.5" width="21.5" height="3.5" fill="#a8c8c8"/>
<!-- motor -->
<rect x="653" y="306" width="3" height="5" fill="#1e7a48"/>
<rect x="656" y="298" width="32" height="22.5" fill="#178048"/>
<path d="M685 298 H691 Q695 298 695 302 V316.5 Q695 320.5 691 320.5 H685 Z" fill="#168046"/>
</g>
<rect x="656.5" y="298.5" width="4" height="22" fill="#0f6a3a"/>
<g stroke="#0b4a28" stroke-width="1">
<line x1="661" y1="300.5" x2="684.5" y2="300.5"/>
<line x1="661" y1="304" x2="684.5" y2="304"/>
<line x1="661" y1="307.5" x2="684.5" y2="307.5"/>
<line x1="661" y1="311" x2="684.5" y2="311"/>
<line x1="661" y1="314.5" x2="684.5" y2="314.5"/>
<line x1="661" y1="318" x2="684.5" y2="318"/>
</g>

<!-- box -->
<rect x="438" y="347" width="126" height="14.5" fill="#fff"/>
<g fill="#fa7c78" stroke="#333" stroke-width="1">
<rect x="449" y="347" width="28" height="15"/>
<rect x="524" y="347" width="29" height="15"/>
<path d="M438 271 L428 302 L428 315 L438 347 Z"/>
<path d="M564 271 L574 302 L574 315 L564 347 Z"/>
<rect x="438" y="271" width="126" height="76"/>
</g>
<text class="boxt" x="470.3" y="301.5">活性炭</text>
<text class="boxt" x="448.5" y="329.3">废气处理箱</text>

<!-- arrows -->
<g stroke="#000" stroke-width="1.3" fill="#000">
<line x1="225" y1="195" x2="246" y2="195"/><path d="M245 191 L256 195 L245 199 Z" stroke="none"/>
<line x1="347.5" y1="218" x2="347.5" y2="240"/><path d="M343.5 239 L347.5 249 L351.5 239 Z" stroke="none"/>
<line x1="376" y1="309" x2="397" y2="309"/><path d="M396 305 L406 309 L396 313 Z" stroke="none"/>
<line x1="586" y1="308.5" x2="607" y2="308.5"/><path d="M606 304.5 L616 308.5 L606 312.5 Z" stroke="none"/>
<line x1="641" y1="124" x2="641" y2="145"/><path d="M637 124 L641 114 L645 124 Z" stroke="none"/>
</g>
<g stroke="#333" stroke-width="0.8" fill="#000">
<line x1="157.7" y1="274" x2="157.7" y2="294"/><path d="M154 275 L157.7 265 L161.4 275 Z" stroke="none"/>
<line x1="177" y1="274" x2="177" y2="294"/><path d="M173.3 275 L177 265 L180.7 275 Z" stroke="none"/>
<line x1="196.7" y1="274" x2="196.7" y2="294"/><path d="M193 275 L196.7 265 L200.4 275 Z" stroke="none"/>
</g>

<!-- pointer lines -->
<g stroke="#2a2a2a" stroke-width="0.9" fill="none">
<line x1="272.7" y1="121.5" x2="256" y2="150"/>
<line x1="139.3" y1="214" x2="157.3" y2="248.5"/>
<line x1="375" y1="230" x2="348.8" y2="262.5"/>
<line x1="685" y1="128" x2="642" y2="195"/>
<line x1="685" y1="274.5" x2="640" y2="304"/>
</g>
<g stroke="#c4c4c4" stroke-width="1">
<line x1="272" y1="122" x2="304" y2="122"/>
<line x1="92" y1="214.5" x2="140" y2="214.5"/>
<line x1="375" y1="230.5" x2="438" y2="230.5"/>
<line x1="685" y1="128" x2="732" y2="128"/>
<line x1="685" y1="274.5" x2="716" y2="274.5"/>
</g>

<!-- labels -->
<text class="lbl" x="272" y="120">车间</text>
<text class="lbl" x="92" y="212">收集罩</text>
<text class="lbl" x="375" y="228">收集管道</text>
<text class="lbl" x="146" y="316">有机废气</text>
<text class="lbl" x="685" y="126">排风道</text>
<text class="lbl" x="685" y="272">风机</text>
<text class="lbl" x="600" y="85">达</text>
<text class="lbl" x="600" y="107">标</text>
<text class="lbl" x="600" y="128.5">排</text>
<text class="lbl" x="600" y="150">放</text>
</svg>

<div id="txt">
<div>活性炭吸附箱是废气处理设备中的一种通常与其他产品组合使用,其</div>
<div>主要功能是漆雾处理。喷漆废气产生于工件涂装的喷漆工作台,高压</div>
<div>空气喷射出的油漆大部分留在工件上,其它的随着废气带出,形成漆雾</div>
<div>粉尘。这些粉尘含量不高,粒径较小,绝大部分在10mm一下,箱体外部</div>
<div>的漆雾在风机的吸力下进入漆雾净化处理箱,气液分离器进行气水分</div>
<div>离,分离后向箱内行走在行走的过程中,遇到多级过滤板,漆雾与过滤</div>
<div>板进行完成饱和接触,颗粒状尘雾被过滤板吸附,余下的干净尾气通过</div>
<div>网状过滤器过滤后再进入活性炭吸附净化箱,活性炭净化箱是利用高</div>
<div>效吸附材料活性炭吸附有机气体能力强的优点来净化空气的。活性</div>
<div>炭净化箱分进风活性炭过滤段和出风段组成,有机废气从进风口进入</div>
<div>箱体,净化后的达标尾气通过风机和排风管道排入高空。</div>
</div>
</body>
</html>
